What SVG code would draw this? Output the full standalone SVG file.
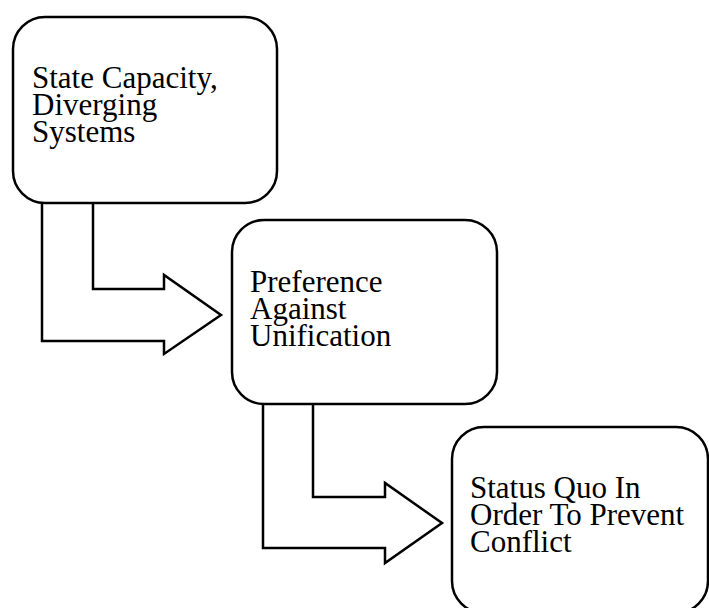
<svg xmlns="http://www.w3.org/2000/svg" width="709" height="608" viewBox="0 0 709 608">
  <style>
    .box { fill: #ffffff; stroke: #000000; stroke-width: 2.5; }
    .arrow { fill: #ffffff; stroke: #000000; stroke-width: 2.5; stroke-linejoin: miter; }
    .label { font-family: "Liberation Serif", "Times New Roman", serif; font-size: 31px; fill: #000000; }
  </style>
  <rect width="709" height="608" fill="#ffffff"/>

  <g id="connectors">
    <!-- bent block arrow from the first box to the second -->
    <path class="arrow" d="M42,203 L42,341 L164,341 L164,354 L221,315 L164,275 L164,289 L93,289 L93,203"/>
    <!-- bent block arrow from the second box to the third -->
    <path class="arrow" d="M263,404 L263,548 L385,548 L385,563 L442,523 L385,483 L385,497 L313,497 L313,404"/>
  </g>

  <g id="node-state-capacity">
    <rect class="box" x="13" y="17" width="264" height="186" rx="32" ry="32"/>
    <text class="label" x="32" y="88">State Capacity,</text>
    <text class="label" x="32" y="115">Diverging</text>
    <text class="label" x="32" y="142">Systems</text>
  </g>

  <g id="node-preference">
    <rect class="box" x="232" y="220" width="265" height="184" rx="32" ry="32"/>
    <text class="label" x="250" y="292">Preference</text>
    <text class="label" x="250" y="319">Against</text>
    <text class="label" x="250" y="346">Unification</text>
  </g>

  <g id="node-status-quo">
    <rect class="box" x="452" y="427" width="256" height="186" rx="32" ry="32"/>
    <text class="label" x="470" y="498">Status Quo In</text>
    <text class="label" x="470" y="525">Order To Prevent</text>
    <text class="label" x="470" y="552">Conflict</text>
  </g>
</svg>
